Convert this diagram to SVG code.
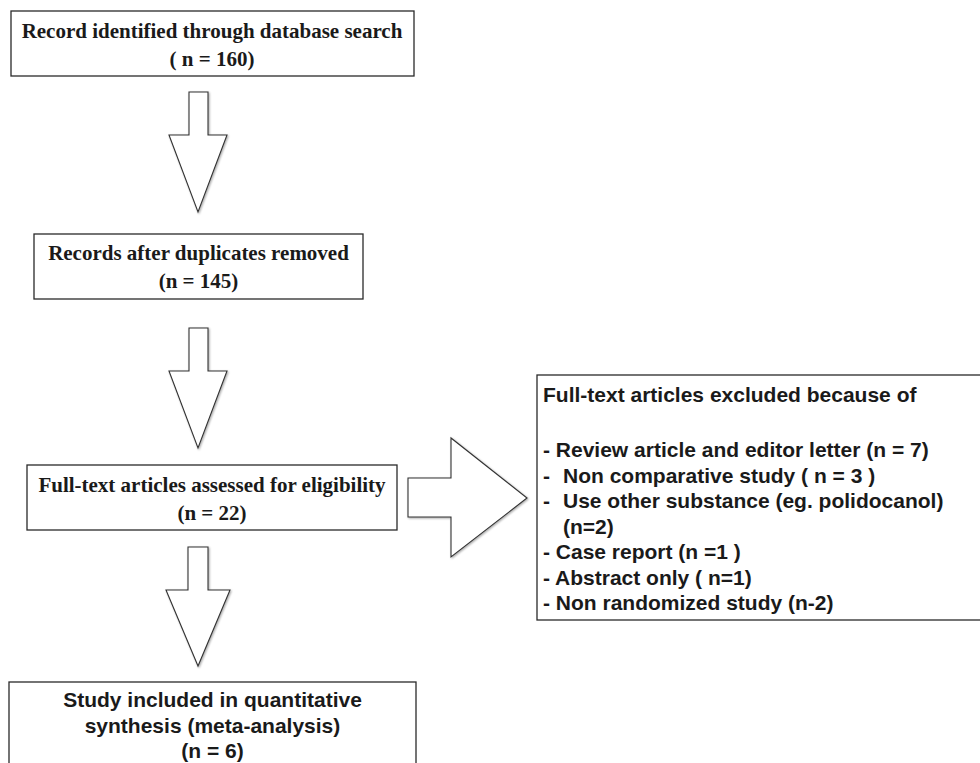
<svg xmlns="http://www.w3.org/2000/svg" width="980" height="763" viewBox="0 0 980 763">
<style>
.box{fill:#fff;stroke:#2a2a2a;stroke-width:1.3}
.arrow{fill:#fff;stroke:#333;stroke-width:1.1;stroke-linejoin:miter;filter:url(#sh)}
.serif{font-family:"Liberation Serif","Times New Roman",serif;font-weight:bold;font-size:21px;fill:#1a1a1a;text-anchor:middle}
.sans{font-family:"Liberation Sans",Arial,sans-serif;font-weight:bold;font-size:21px;fill:#1a1a1a;text-anchor:middle}
.list{font-family:"Liberation Sans",Arial,sans-serif;font-weight:bold;font-size:21px;fill:#1a1a1a}
</style>
<defs>
<filter id="sh" x="-20%" y="-20%" width="140%" height="140%">
<feGaussianBlur in="SourceAlpha" stdDeviation="1.2"/>
<feOffset dx="0.5" dy="0.8" result="b"/>
<feComponentTransfer><feFuncA type="linear" slope="0.35"/></feComponentTransfer>
<feMerge><feMergeNode/><feMergeNode in="SourceGraphic"/></feMerge>
</filter>
</defs>
<rect width="980" height="763" fill="#fff"/>
<g id="connectors">
<polygon class="arrow" points="189,92 208,92 208,135 227,135 198,212 169,135 189,135"/>
<polygon class="arrow" points="189,328 208,328 208,371 227,371 198,448 169,371 189,371"/>
<polygon class="arrow" points="188,547 208,547 208,590 230,590 198,666 166,590 188,590"/>
<polygon class="arrow" points="408,478 451,478 451,438 527,498 451,557 451,517 408,517"/>
</g>
<g id="n1">
<rect class="box" x="11" y="11" width="403" height="65"/>
<text class="serif" x="212" y="38">Record identified through database search</text>
<text class="serif" x="212" y="66">( n = 160)</text>
</g>
<g id="n2">
<rect class="box" x="34" y="234" width="329" height="65"/>
<text class="serif" x="198.5" y="260">Records after duplicates removed</text>
<text class="serif" x="198.5" y="288">(n = 145)</text>
</g>
<g id="n3">
<rect class="box" x="27" y="465" width="370" height="65"/>
<text class="serif" x="212" y="492">Full-text articles assessed for eligibility</text>
<text class="serif" x="212" y="520">(n = 22)</text>
</g>
<g id="n4">
<rect class="box" x="9" y="682" width="407" height="100"/>
<text class="sans" x="212.5" y="707">Study included in quantitative</text>
<text class="sans" x="212.5" y="733">synthesis (meta-analysis)</text>
<text class="sans" x="212.5" y="758">(n = 6)</text>
</g>
<g id="n5">
<rect class="box" x="537" y="375" width="460" height="245"/>
<text class="list" x="543" y="402">Full-text articles excluded because of</text>
<text class="list" x="543" y="457">- Review article and editor letter (n = 7)</text>
<text class="list" x="543" y="482.5">-</text>
<text class="list" x="563" y="482.5">Non comparative study ( n = 3 )</text>
<text class="list" x="543" y="508">-</text>
<text class="list" x="563" y="508">Use other substance (eg. polidocanol)</text>
<text class="list" x="563" y="533.5">(n=2)</text>
<text class="list" x="543" y="559">- Case report (n =1 )</text>
<text class="list" x="543" y="584.5">- Abstract only ( n=1)</text>
<text class="list" x="543" y="610">- Non randomized study (n-2)</text>
</g>
</svg>
